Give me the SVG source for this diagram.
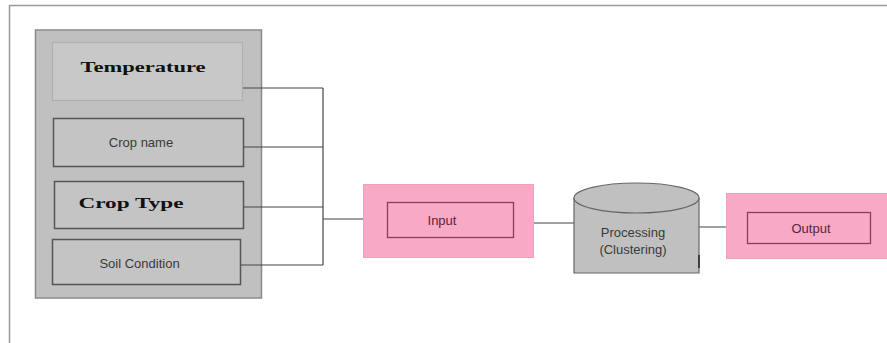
<svg xmlns="http://www.w3.org/2000/svg" width="887" height="343" viewBox="0 0 887 343">
<style>
.sans{font-family:"Liberation Sans",Arial,sans-serif;font-size:13px;fill:#3a3a3a;text-anchor:middle}
.serif{font-family:"Liberation Serif","Times New Roman",serif;font-weight:bold;fill:#111;text-anchor:middle}
.box{fill:#c4c4c4;stroke:#555;stroke-width:1.5}
.pink{fill:#f7a9c5;stroke:#f0a0bc;stroke-width:1}
.inner{fill:#f7a9c5;stroke:#8a3c5c;stroke-width:1.3}
.conn{fill:none;stroke:#444;stroke-width:1.2}
.ptext{font-family:"Liberation Sans",Arial,sans-serif;font-size:13px;fill:#5a2440;text-anchor:middle}
</style>
<rect width="887" height="343" fill="#fff"/>
<path d="M9.5,343 V5.5 H887" fill="none" stroke="#999" stroke-width="1.5"/>
<g id="panel">
<rect x="35.5" y="30" width="226" height="268" fill="#c0c0c0" stroke="#8a8a8a" stroke-width="1.5"/>
</g>
<g id="temperature">
<rect x="52.5" y="42.5" width="190" height="58" fill="#c8c8c8" stroke="#b0b0b0" stroke-width="1.2"/>
<text class="serif" x="143" y="72" font-size="14" textLength="125" lengthAdjust="spacingAndGlyphs">Temperature</text>
</g>
<g id="cropname">
<rect class="box" x="53.5" y="118.5" width="190" height="48"/>
<text class="sans" x="141" y="147">Crop name</text>
</g>
<g id="croptype">
<rect class="box" x="54.5" y="181.5" width="189" height="47"/>
<text class="serif" x="131" y="208" font-size="15" textLength="105" lengthAdjust="spacingAndGlyphs">Crop Type</text>
</g>
<g id="soil">
<rect class="box" x="52.5" y="239.5" width="188" height="45"/>
<text class="sans" x="139.5" y="268">Soil Condition</text>
</g>
<g id="connectors">
<path class="conn" d="M243,88 H323 M244,147 H323 M244,207 H323 M241,265 H323 M323,88 V265 M323,219 H363"/>
<path class="conn" d="M533,223 H574 M699,227 H726"/>
</g>
<g id="input">
<rect class="pink" x="363.5" y="184.5" width="170" height="73"/>
<rect class="inner" x="387.5" y="202.5" width="126" height="35"/>
<text class="ptext" x="442" y="225">Input</text>
</g>
<g id="processing">
<path d="M574,198 V273 H699 V198" fill="#c0c0c0" stroke="#666" stroke-width="1.2"/>
<ellipse cx="636.5" cy="198" rx="62.5" ry="15" fill="#c0c0c0" stroke="#666" stroke-width="1.2"/>
<path d="M699,255 V268" stroke="#222" stroke-width="1.5"/>
<text class="sans" x="633" y="237">Processing</text>
<text class="sans" x="633" y="254">(Clustering)</text>
</g>
<g id="output">
<rect class="pink" x="726.5" y="193.5" width="161" height="65"/>
<rect class="inner" x="747.5" y="212.5" width="123" height="31"/>
<text class="ptext" x="811" y="233">Output</text>
</g>
</svg>
